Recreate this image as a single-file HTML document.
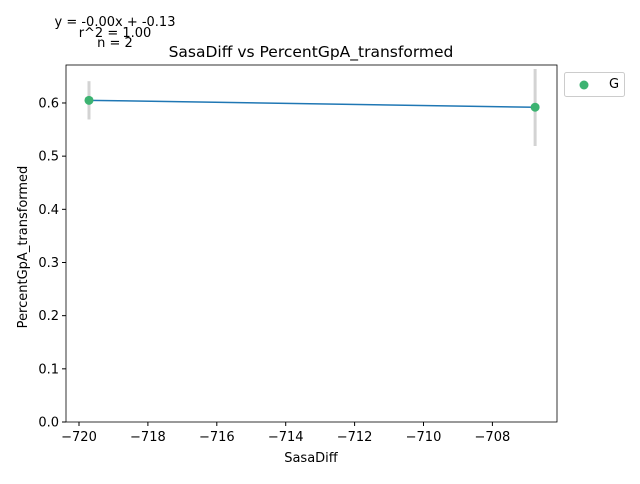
<!DOCTYPE html>
<html><head><meta charset="utf-8"><style>
body{margin:0;background:#fff;font-family:"DejaVu Sans","Liberation Sans",sans-serif}
</style></head><body>
<svg width="640" height="480" xmlns="http://www.w3.org/2000/svg" font-family="DejaVu Sans, Liberation Sans, sans-serif">
<g id="g"></g>
</svg>
<script>
const xTicks=[-720,-718,-716,-714,-712,-710,-708];
const yTicks=[0.0,0.1,0.2,0.3,0.4,0.5,0.6];
const xs=[-719.71,-706.76];
const ys=[0.605,0.592];
const errLo=[0.569,0.519];
const errHi=[0.641,0.664];
const L=66,R=557,T=65,B=422;
const X=v=>79+(v+720)*34.45;
const Y=v=>422-v*531.7;
const g=document.getElementById('g');
const NS='http://www.w3.org/2000/svg';
function mk(t,a,txt){const e=document.createElementNS(NS,t);for(const k in a)e.setAttribute(k,a[k]);if(txt!==undefined)e.textContent=txt;g.appendChild(e);return e;}
xTicks.forEach(v=>{
 const t=mk('line',{x1:X(v),x2:X(v),y1:B,y2:B+4,stroke:'#000'});
 
 
 const l=mk('text',{x:X(v),y:B+19,'font-size':13,'text-anchor':'middle'},'\u2212'+Math.abs(v));
 
 
});
yTicks.forEach(v=>{
 const t=mk('line',{x1:L-4,x2:L,y1:Y(v),y2:Y(v),stroke:'#000'});
 
 
 const l=mk('text',{x:L-7,y:Y(v)+4.5,'font-size':13,'text-anchor':'end'},v.toFixed(1));
 
 
});
xs.forEach((v,i)=>{
 const e=mk('line',{x1:X(v),x2:X(v),y1:Y(errLo[i]),y2:Y(errHi[i]),stroke:'#d3d3d3','stroke-width':3});
 
 
});
const fl=mk('line',{x1:X(xs[0]),y1:Y(ys[0]),x2:X(xs[1]),y2:Y(ys[1]),stroke:'#1f77b4','stroke-width':1.5});


xs.forEach((v,i)=>{
 const c=mk('circle',{cx:X(v),cy:Y(ys[i]),r:4.5,fill:'#3cb371'});
 
 
});
const fr=mk('rect',{x:L,y:T,width:R-L,height:B-T,fill:'none',stroke:'#000','stroke-width':0.8});


</script>
<svg width="640" height="480" style="position:absolute;left:0;top:0" font-family="DejaVu Sans, Liberation Sans, sans-serif">
<text x="311" y="57" font-size="15.5" text-anchor="middle">SasaDiff vs PercentGpA_transformed</text>
<text x="311" y="462" font-size="13" text-anchor="middle">SasaDiff</text>
<text x="27" y="247" font-size="13" text-anchor="middle" transform="rotate(-90 27 247)">PercentGpA_transformed</text>
<text x="115" y="26" font-size="13" text-anchor="middle">y = -0.00x + -0.13</text>
<text x="115" y="37" font-size="13" text-anchor="middle">r^2 = 1.00</text>
<text x="115" y="47" font-size="13" text-anchor="middle">n = 2</text>
<g>
<rect x="564.5" y="72.5" width="60" height="24" rx="2" fill="#fff" stroke="#ccc"/>
<circle cx="584" cy="85" r="4.5" fill="#3cb371"/>
<text x="609" y="88" font-size="13">G</text>
</g>
</svg>
</body></html>
